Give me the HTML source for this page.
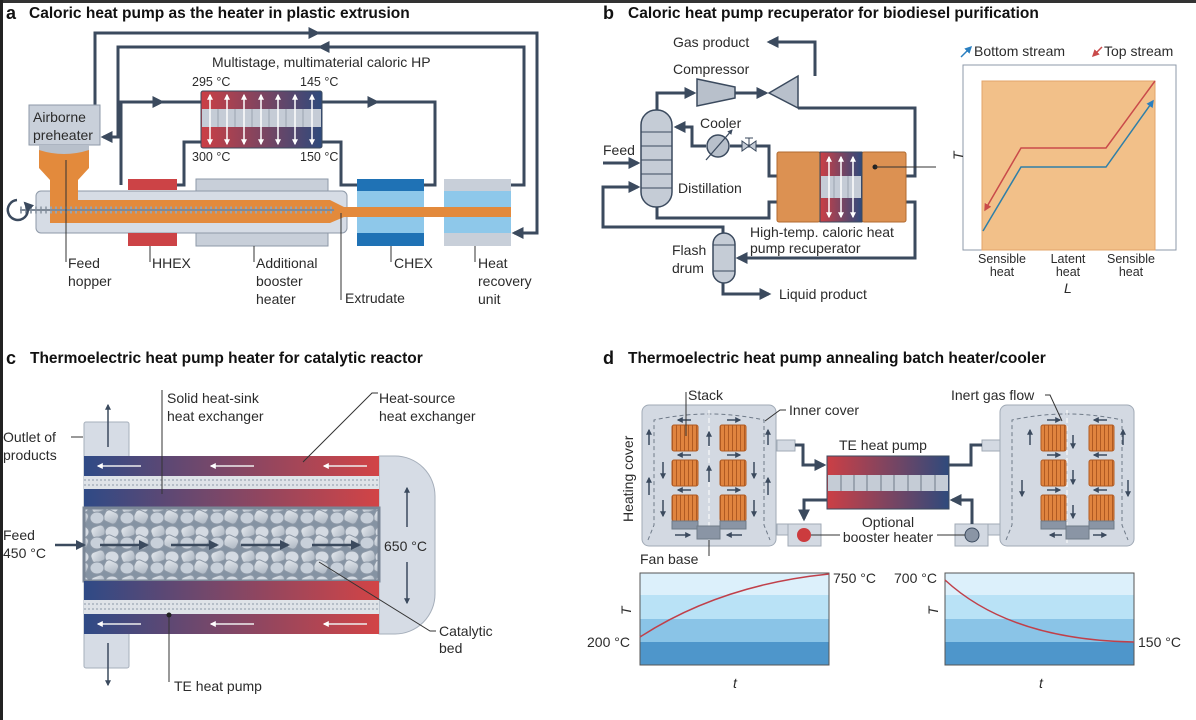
<!DOCTYPE html>
<html><head><meta charset="utf-8"><style>
html,body{margin:0;padding:0;background:#fff}
svg{display:block}
text{font-family:"Liberation Sans",sans-serif;fill:#2b2b2b}
.t{font-size:14px}
.h{font-size:15.5px;font-weight:bold;fill:#111}
.s{font-size:12.5px}
</style></head><body>
<svg width="1196" height="720" viewBox="0 0 1196 720" xmlns="http://www.w3.org/2000/svg">
<defs>
<marker id="ar" viewBox="0 0 10 10" refX="8" refY="5" markerWidth="4" markerHeight="4" orient="auto-start-reverse"><path d="M0,0L10,5L0,10z" fill="#3b4a5e"/></marker>
<marker id="aw" viewBox="0 0 10 10" refX="8" refY="5" markerWidth="4" markerHeight="4" orient="auto-start-reverse"><path d="M0,0L10,5L0,10z" fill="#fff"/></marker>
<marker id="ab" viewBox="0 0 10 10" refX="8" refY="5" markerWidth="5" markerHeight="5" orient="auto"><path d="M0,0L10,5L0,10z" fill="#2a7fc0"/></marker>
<marker id="arr" viewBox="0 0 10 10" refX="8" refY="5" markerWidth="5" markerHeight="5" orient="auto"><path d="M0,0L10,5L0,10z" fill="#c94a4a"/></marker>
<linearGradient id="rb" x1="0" x2="1"><stop offset="0" stop-color="#cc3f45"/><stop offset="1" stop-color="#2f4a7c"/></linearGradient>
<linearGradient id="br" x1="0" x2="1"><stop offset="0" stop-color="#2f4a86"/><stop offset="1" stop-color="#d24446"/></linearGradient>
<linearGradient id="pel" x1="0" x2="1" y1="0" y2="1"><stop offset="0" stop-color="#e6eaef"/><stop offset="1" stop-color="#aab4c0"/></linearGradient>
<pattern id="bed" width="30" height="25" patternUnits="userSpaceOnUse">
<rect width="30" height="25" fill="#8593a3"/>
<rect x="1" y="1" width="14" height="11" rx="4" fill="url(#pel)" stroke="#8d98a6" transform="rotate(-20 8 6)"/>
<ellipse cx="22" cy="7" rx="7" ry="6" fill="#d4dae2" stroke="#8d98a6"/>
<rect x="14" y="11" width="14" height="12" rx="4" fill="url(#pel)" stroke="#8d98a6" transform="rotate(25 21 17)"/>
<ellipse cx="7" cy="18" rx="7" ry="6" fill="#c8d0da" stroke="#8d98a6"/>
</pattern>
<pattern id="stk" width="4" height="10" patternUnits="userSpaceOnUse"><rect width="4" height="10" fill="#e0843f"/><rect width="1" height="10" fill="#b05a22"/></pattern>
</defs>
<rect x="0" y="0" width="1196" height="3" fill="#333"/>
<rect x="0" y="0" width="3" height="720" fill="#222"/>

<!-- ===== Panel a ===== -->
<text x="6" y="19" class="h" style="font-size:18px">a</text>
<text x="29" y="18" class="h">Caloric heat pump as the heater in plastic extrusion</text>
<g fill="none" stroke="#3b4a5e" stroke-width="3">
<path d="M95,112V33H537V233H514" marker-end="url(#ar)"/>
<path d="M95,33H318" marker-end="url(#ar)"/>
<path d="M511,185H524V47H118V137H103" marker-end="url(#ar)"/>
<path d="M524,47H320" marker-end="url(#ar)"/>
<path d="M121,185V102H201"/><path d="M121,102H162" marker-end="url(#ar)"/>
<path d="M177,185H184V142H201"/>
<path d="M322,102H435V185H424"/><path d="M322,102H377" marker-end="url(#ar)"/>
<path d="M322,142H341V185H357"/>
</g>
<rect x="29" y="105" width="71" height="40" fill="#c9d0da" stroke="#8e99a8"/>
<text x="33" y="122" class="t">Airborne</text><text x="33" y="140" class="t">preheater</text>
<rect x="39" y="145" width="50" height="23" fill="#b8c0cb"/>
<path d="M39,150Q64,158 89,150V168L78,180V200H50V180L39,168Z" fill="#e38a3c"/>
<rect x="36" y="191" width="311" height="42" rx="5" fill="#d6dce5" stroke="#8e99a8"/>
<path d="M50,180H78V200H330L344,207H511V217H344L330,223H50Z" fill="#e38a3c"/>
<rect x="50" y="180" width="28" height="24" fill="#e38a3c"/>
<line x1="20" y1="210" x2="334" y2="210" stroke="#9aa4b0" stroke-width="7" stroke-dasharray="2 3"/>
<line x1="20" y1="210" x2="334" y2="210" stroke="#7f8a98" stroke-width="2"/>
<path d="M17,200A10,10 0 1 0 25,203" fill="none" stroke="#3b4a5e" stroke-width="2.5" marker-end="url(#ar)"/>
<rect x="128" y="179" width="49" height="11" fill="#cc4346"/>
<rect x="128" y="233" width="49" height="13" fill="#cc4346"/>
<rect x="196" y="179" width="132" height="12" fill="#c8cfd9" stroke="#8e99a8"/>
<rect x="196" y="233" width="132" height="13" fill="#c8cfd9" stroke="#8e99a8"/>
<rect x="357" y="179" width="67" height="67" fill="#8ec8ea"/>
<rect x="357" y="179" width="67" height="12" fill="#1f72b5"/><rect x="357" y="233" width="67" height="13" fill="#1f72b5"/>
<rect x="357" y="207" width="67" height="10" fill="#e38a3c"/>
<rect x="444" y="179" width="67" height="67" fill="#8ec8ea"/>
<rect x="444" y="179" width="67" height="12" fill="#c8cfd9"/><rect x="444" y="233" width="67" height="13" fill="#c8cfd9"/>
<rect x="444" y="207" width="67" height="10" fill="#e38a3c"/>
<rect x="201" y="91" width="121" height="57" rx="2" fill="url(#rb)" stroke="#3b4a5e"/>
<rect x="202" y="109" width="119" height="18" fill="#c5ccd6"/>
<g stroke="#9aa4b0"><line x1="218" y1="109" x2="218" y2="127"/><line x1="235" y1="109" x2="235" y2="127"/><line x1="252" y1="109" x2="252" y2="127"/><line x1="269" y1="109" x2="269" y2="127"/><line x1="286" y1="109" x2="286" y2="127"/><line x1="303" y1="109" x2="303" y2="127"/></g>
<g stroke="#fff" stroke-width="1.5" marker-start="url(#aw)" marker-end="url(#aw)">
<line x1="210" y1="95" x2="210" y2="144"/><line x1="227" y1="95" x2="227" y2="144"/><line x1="244" y1="95" x2="244" y2="144"/><line x1="261" y1="95" x2="261" y2="144"/><line x1="278" y1="95" x2="278" y2="144"/><line x1="295" y1="95" x2="295" y2="144"/><line x1="312" y1="95" x2="312" y2="144"/></g>
<text x="212" y="67" class="t">Multistage, multimaterial caloric HP</text>
<text x="192" y="86" class="s">295 °C</text><text x="300" y="86" class="s">145 °C</text>
<text x="192" y="161" class="s">300 °C</text><text x="300" y="161" class="s">150 °C</text>
<g stroke="#333" stroke-width="1"><line x1="66" y1="160" x2="66" y2="262"/><line x1="150" y1="246" x2="150" y2="262"/><line x1="254" y1="246" x2="254" y2="262"/><line x1="341" y1="213" x2="341" y2="300"/><line x1="391" y1="246" x2="391" y2="262"/><line x1="475" y1="246" x2="475" y2="262"/></g>
<text x="68" y="268" class="t">Feed</text><text x="68" y="286" class="t">hopper</text>
<text x="152" y="268" class="t">HHEX</text>
<text x="256" y="268" class="t">Additional</text><text x="256" y="286" class="t">booster</text><text x="256" y="304" class="t">heater</text>
<text x="345" y="303" class="t">Extrudate</text>
<text x="394" y="268" class="t">CHEX</text>
<text x="478" y="268" class="t">Heat</text><text x="478" y="286" class="t">recovery</text><text x="478" y="304" class="t">unit</text>

<!-- ===== Panel b ===== -->
<text x="603" y="19" class="h" style="font-size:18px">b</text>
<text x="628" y="18" class="h">Caloric heat pump recuperator for biodiesel purification</text>
<g fill="none" stroke="#3b4a5e" stroke-width="3">
<path d="M657,110V93H694" marker-end="url(#ar)"/>
<path d="M735,93H766" marker-end="url(#ar)"/>
<path d="M815,76V42H769" marker-end="url(#ar)"/>
<path d="M798,108H915V176H906"/>
<path d="M706,146H692V127H676" marker-end="url(#ar)"/>
<path d="M730,146H769V176H777"/>
<path d="M657,207V218H769V202H777"/>
<path d="M906,202H915V258H738" marker-end="url(#ar)"/>
<path d="M723,233V227H603V187H638" marker-end="url(#ar)"/>
<path d="M603,163H638" marker-end="url(#ar)"/>
<path d="M723,283V294H769" marker-end="url(#ar)"/>
</g>
<path d="M697,79L735,87V98L697,106Z" fill="#b8c0cb" stroke="#3b4a5e" stroke-width="1.5"/>
<path d="M769,93L798,76V108Z" fill="#b8c0cb" stroke="#3b4a5e" stroke-width="1.5"/>
<rect x="641" y="110" width="31" height="97" rx="15" fill="#c5ccd6" stroke="#3b4a5e" stroke-width="1.5"/>
<g stroke="#3b4a5e"><line x1="641" y1="132" x2="672" y2="132"/><line x1="641" y1="146" x2="672" y2="146"/><line x1="641" y1="160" x2="672" y2="160"/><line x1="641" y1="174" x2="672" y2="174"/><line x1="641" y1="188" x2="672" y2="188"/></g>
<circle cx="718" cy="146" r="11" fill="#b8c0cb" stroke="#3b4a5e" stroke-width="1.5"/>
<line x1="706" y1="160" x2="732" y2="130" stroke="#3b4a5e" stroke-width="1.3" marker-end="url(#ar)"/>
<path d="M742,141L756,151V141L742,151Z" fill="#c5ccd6" stroke="#3b4a5e"/>
<line x1="749" y1="146" x2="749" y2="138" stroke="#3b4a5e"/><line x1="745" y1="138" x2="753" y2="138" stroke="#3b4a5e"/>
<rect x="777" y="152" width="43" height="70" rx="2" fill="#dc9152" stroke="#b06a30"/>
<rect x="862" y="152" width="44" height="70" rx="2" fill="#dc9152" stroke="#b06a30"/>
<rect x="820" y="152" width="42" height="70" fill="url(#rb)" stroke="#3b4a5e"/>
<rect x="821" y="176" width="40" height="22" fill="#c5ccd6"/>
<g stroke="#9aa4b0"><line x1="834" y1="176" x2="834" y2="198"/><line x1="848" y1="176" x2="848" y2="198"/></g>
<g stroke="#fff" stroke-width="1.5" marker-start="url(#aw)" marker-end="url(#aw)"><line x1="829" y1="157" x2="829" y2="217"/><line x1="841" y1="157" x2="841" y2="217"/><line x1="853" y1="157" x2="853" y2="217"/></g>
<circle cx="875" cy="167" r="2.5" fill="#222"/><line x1="875" y1="167" x2="936" y2="167" stroke="#333"/>
<rect x="713" y="233" width="22" height="50" rx="11" fill="#c5ccd6" stroke="#3b4a5e" stroke-width="1.5"/>
<g stroke="#3b4a5e"><line x1="713" y1="245" x2="735" y2="245"/><line x1="713" y1="271" x2="735" y2="271"/></g>
<text x="673" y="47" class="t">Gas product</text>
<text x="673" y="74" class="t">Compressor</text>
<text x="700" y="128" class="t">Cooler</text>
<text x="603" y="155" class="t">Feed</text>
<text x="678" y="193" class="t">Distillation</text>
<text x="750" y="237" class="t">High-temp. caloric heat</text><text x="750" y="253" class="t">pump recuperator</text>
<text x="672" y="255" class="t">Flash</text><text x="672" y="273" class="t">drum</text>
<text x="779" y="299" class="t">Liquid product</text>
<rect x="963" y="65" width="213" height="185" fill="#fff" stroke="#8e99a8"/>
<rect x="982" y="81" width="173" height="169" fill="#f2c089" stroke="#e3a46a"/>
<path d="M983,231L1021,167H1106L1153,101" fill="none" stroke="#2f7fa8" stroke-width="1.5" marker-end="url(#ab)"/>
<path d="M1155,81L1106,148H1021L985,210" fill="none" stroke="#c94a4a" stroke-width="1.5" marker-end="url(#arr)"/>
<text x="958" y="165" class="t" transform="rotate(-90 958 160)" style="font-style:italic">T</text>
<line x1="961" y1="57" x2="971" y2="47" stroke="#2a7fc0" stroke-width="1.5" marker-end="url(#ab)"/>
<text x="974" y="56" class="t">Bottom stream</text>
<line x1="1102" y1="47" x2="1093" y2="56" stroke="#c94a4a" stroke-width="1.5" marker-end="url(#arr)"/>
<text x="1104" y="56" class="t">Top stream</text>
<g text-anchor="middle"><text x="1002" y="263" class="s">Sensible</text><text x="1002" y="276" class="s">heat</text><text x="1068" y="263" class="s">Latent</text><text x="1068" y="276" class="s">heat</text><text x="1131" y="263" class="s">Sensible</text><text x="1131" y="276" class="s">heat</text></g>
<text x="1064" y="293" class="t" style="font-style:italic">L</text>

<!-- ===== Panel c ===== -->
<text x="6" y="364" class="h" style="font-size:18px">c</text>
<text x="30" y="363" class="h">Thermoelectric heat pump heater for catalytic reactor</text>
<rect x="84" y="422" width="45" height="246" rx="2" fill="#d6dce5" stroke="#a6afbb"/>
<path d="M379,456H395A40,40 0 0 1 435,496V594A40,40 0 0 1 395,634H379Z" fill="#d6dce5" stroke="#a6afbb"/>
<path d="M379,477A11,11 0 0 0 379,508Z M379,581A11,11 0 0 0 379,612Z" fill="#fff"/>
<rect x="84" y="456" width="295" height="20" fill="url(#br)"/>
<rect x="84" y="476" width="295" height="13" fill="#dfe3e8"/>
<line x1="84" y1="480" x2="379" y2="480" stroke="#8e99a8" stroke-dasharray="2 2"/><line x1="84" y1="485" x2="379" y2="485" stroke="#8e99a8" stroke-dasharray="2 2"/>
<rect x="84" y="489" width="295" height="19" fill="url(#br)"/>
<rect x="84" y="508" width="295" height="73" fill="url(#bed)"/>
<rect x="84" y="508" width="295" height="73" fill="none" stroke="#7a8696" stroke-width="3"/>
<rect x="84" y="581" width="295" height="19" fill="url(#br)"/>
<rect x="84" y="600" width="295" height="14" fill="#dfe3e8"/>
<line x1="84" y1="604" x2="379" y2="604" stroke="#8e99a8" stroke-dasharray="2 2"/><line x1="84" y1="609" x2="379" y2="609" stroke="#8e99a8" stroke-dasharray="2 2"/>
<rect x="84" y="614" width="295" height="20" fill="url(#br)"/>
<g stroke="#eee" stroke-width="1.5" marker-end="url(#aw)"><line x1="141" y1="466" x2="98" y2="466"/><line x1="254" y1="466" x2="211" y2="466"/><line x1="367" y1="466" x2="324" y2="466"/><line x1="141" y1="624" x2="98" y2="624"/><line x1="254" y1="624" x2="211" y2="624"/><line x1="367" y1="624" x2="324" y2="624"/></g>
<g stroke="#3b4a5e" stroke-width="2.5" marker-end="url(#ar)"><line x1="100" y1="545" x2="147" y2="545"/><line x1="171" y1="545" x2="217" y2="545"/><line x1="241" y1="545" x2="288" y2="545"/><line x1="312" y1="545" x2="359" y2="545"/><line x1="55" y1="545" x2="84" y2="545"/></g>
<g stroke="#3b4a5e" stroke-width="1.5" marker-end="url(#ar)"><line x1="407" y1="527" x2="407" y2="488"/><line x1="407" y1="562" x2="407" y2="603"/><line x1="108" y1="447" x2="108" y2="405"/><line x1="108" y1="643" x2="108" y2="685"/></g>
<g stroke="#333" stroke-width="1" fill="none"><line x1="71" y1="437" x2="83" y2="437"/><line x1="162" y1="390" x2="162" y2="494"/><path d="M378,393H372L303,462"/><path d="M436,631H430L319,562"/><line x1="169" y1="615" x2="169" y2="682"/></g>
<circle cx="169" cy="615" r="2.5" fill="#222"/>
<text x="3" y="442" class="t">Outlet of</text><text x="3" y="460" class="t">products</text>
<text x="3" y="540" class="t">Feed</text><text x="3" y="558" class="t">450 °C</text>
<text x="167" y="403" class="t">Solid heat-sink</text><text x="167" y="421" class="t">heat exchanger</text>
<text x="379" y="403" class="t">Heat-source</text><text x="379" y="421" class="t">heat exchanger</text>
<text x="384" y="551" class="t">650 °C</text>
<text x="439" y="636" class="t">Catalytic</text><text x="439" y="653" class="t">bed</text>
<text x="174" y="691" class="t">TE heat pump</text>

<!-- ===== Panel d ===== -->
<text x="603" y="364" class="h" style="font-size:18px">d</text>
<text x="628" y="363" class="h">Thermoelectric heat pump annealing batch heater/cooler</text>
<g fill="#d3d9e2" stroke="#a0aab6"><rect x="642" y="405" width="134" height="141" rx="7"/><rect x="1000" y="405" width="134" height="141" rx="7"/>
<rect x="777" y="440" width="18" height="11"/><rect x="982" y="440" width="18" height="11"/>
<rect x="777" y="524" width="11" height="11"/><rect x="788" y="524" width="33" height="22"/>
<rect x="988" y="524" width="12" height="11"/><rect x="955" y="524" width="33" height="22"/></g>
<g fill="none" stroke="#6f7a88" stroke-dasharray="4 3"><path d="M648,540L654,525V420Q709,408 764,420V525L770,540"/><path d="M1006,540L1012,525V420Q1067,408 1122,420V525L1128,540"/></g>
<line x1="709" y1="410" x2="709" y2="546" stroke="#fff" stroke-dasharray="5 3"/><line x1="1067" y1="410" x2="1067" y2="546" stroke="#fff" stroke-dasharray="5 3"/>
<g fill="url(#stk)" stroke="#b05a22"><rect x="672" y="425" width="26" height="26" rx="2"/><rect x="720" y="425" width="26" height="26" rx="2"/><rect x="672" y="460" width="26" height="26" rx="2"/><rect x="720" y="460" width="26" height="26" rx="2"/><rect x="672" y="495" width="26" height="26" rx="2"/><rect x="720" y="495" width="26" height="26" rx="2"/>
<rect x="1041" y="425" width="25" height="26" rx="2"/><rect x="1089" y="425" width="25" height="26" rx="2"/><rect x="1041" y="460" width="25" height="26" rx="2"/><rect x="1089" y="460" width="25" height="26" rx="2"/><rect x="1041" y="495" width="25" height="26" rx="2"/><rect x="1089" y="495" width="25" height="26" rx="2"/></g>
<g fill="#8a95a5" stroke="#6f7a88"><rect x="672" y="521" width="26" height="8"/><rect x="720" y="521" width="26" height="8"/><rect x="697" y="526" width="23" height="13"/><rect x="1041" y="521" width="25" height="8"/><rect x="1089" y="521" width="25" height="8"/><rect x="1066" y="526" width="23" height="13"/></g>
<g stroke="#3b4a5e" stroke-width="1.5" marker-end="url(#ar)">
<line x1="691" y1="420" x2="678" y2="420"/><line x1="727" y1="420" x2="740" y2="420"/><line x1="691" y1="455" x2="678" y2="455"/><line x1="727" y1="455" x2="740" y2="455"/><line x1="691" y1="490" x2="678" y2="490"/><line x1="727" y1="490" x2="740" y2="490"/>
<line x1="649" y1="445" x2="649" y2="430"/><line x1="649" y1="495" x2="649" y2="478"/><line x1="768" y1="445" x2="768" y2="430"/><line x1="768" y1="495" x2="768" y2="478"/>
<line x1="663" y1="462" x2="663" y2="478"/><line x1="663" y1="500" x2="663" y2="516"/><line x1="754" y1="462" x2="754" y2="478"/><line x1="754" y1="500" x2="754" y2="516"/>
<line x1="709" y1="482" x2="709" y2="466"/><line x1="709" y1="446" x2="709" y2="432"/>
<line x1="675" y1="535" x2="690" y2="535"/><line x1="742" y1="535" x2="727" y2="535"/>
<line x1="1047" y1="420" x2="1060" y2="420"/><line x1="1107" y1="420" x2="1094" y2="420"/><line x1="1047" y1="455" x2="1060" y2="455"/><line x1="1107" y1="455" x2="1094" y2="455"/><line x1="1047" y1="490" x2="1060" y2="490"/><line x1="1107" y1="490" x2="1094" y2="490"/>
<line x1="1030" y1="445" x2="1030" y2="430"/><line x1="1022" y1="480" x2="1022" y2="496"/><line x1="1123" y1="445" x2="1123" y2="430"/><line x1="1128" y1="480" x2="1128" y2="496"/>
<line x1="1073" y1="435" x2="1073" y2="448"/><line x1="1073" y1="470" x2="1073" y2="484"/><line x1="1073" y1="505" x2="1073" y2="518"/>
<line x1="1062" y1="535" x2="1050" y2="535"/><line x1="1093" y1="535" x2="1106" y2="535"/></g>
<g fill="none" stroke="#3b4a5e" stroke-width="3"><path d="M795,445H803V465H824" marker-end="url(#ar)"/><path d="M949,465H971V445H982"/><path d="M827,500H804V519" marker-end="url(#ar)"/><path d="M972,524V500H952" marker-end="url(#ar)"/></g>
<rect x="827" y="456" width="122" height="53" fill="url(#rb)" stroke="#3b4a5e"/>
<rect x="828" y="475" width="120" height="16" fill="#c5ccd6"/>
<g stroke="#6f7a88"><line x1="841" y1="475" x2="841" y2="491"/><line x1="854" y1="475" x2="854" y2="491"/><line x1="867" y1="475" x2="867" y2="491"/><line x1="881" y1="475" x2="881" y2="491"/><line x1="894" y1="475" x2="894" y2="491"/><line x1="908" y1="475" x2="908" y2="491"/><line x1="921" y1="475" x2="921" y2="491"/><line x1="935" y1="475" x2="935" y2="491"/></g>
<circle cx="804" cy="535" r="7" fill="#cc3b3e"/><circle cx="972" cy="535" r="7" fill="#8a95a5" stroke="#3b4a5e"/>
<g stroke="#333" fill="none"><line x1="811" y1="535" x2="840" y2="535"/><line x1="937" y1="535" x2="965" y2="535"/><path d="M786,410H780L765,421"/><path d="M1045,395H1050L1062,421"/><line x1="686" y1="392" x2="686" y2="436"/><line x1="709" y1="540" x2="709" y2="556"/></g>
<text x="839" y="450" class="t">TE heat pump</text>
<text x="888" y="527" class="t" text-anchor="middle">Optional</text><text x="888" y="542" class="t" text-anchor="middle">booster heater</text>
<text x="789" y="415" class="t">Inner cover</text>
<text x="688" y="400" class="t">Stack</text>
<text x="951" y="400" class="t">Inert gas flow</text>
<text x="640" y="564" class="t">Fan base</text>
<text x="633" y="522" class="t" transform="rotate(-90 633 522)">Heating cover</text>
<rect x="640" y="573" width="189" height="22" fill="#dcf0fb"/><rect x="640" y="595" width="189" height="24" fill="#b9e2f6"/><rect x="640" y="619" width="189" height="23" fill="#8ac4e7"/><rect x="640" y="642" width="189" height="23" fill="#4e96cb"/>
<rect x="640" y="573" width="189" height="92" fill="none" stroke="#555"/>
<path d="M640,637Q720,585 829,574" fill="none" stroke="#c0404a" stroke-width="1.5"/>
<rect x="945" y="573" width="189" height="22" fill="#dcf0fb"/><rect x="945" y="595" width="189" height="24" fill="#b9e2f6"/><rect x="945" y="619" width="189" height="23" fill="#8ac4e7"/><rect x="945" y="642" width="189" height="23" fill="#4e96cb"/>
<rect x="945" y="573" width="189" height="92" fill="none" stroke="#555"/>
<path d="M945,580Q1010,640 1134,642" fill="none" stroke="#c0404a" stroke-width="1.5"/>
<text x="833" y="583" class="t">750 °C</text><text x="587" y="647" class="t">200 °C</text>
<text x="894" y="583" class="t">700 °C</text><text x="1138" y="647" class="t">150 °C</text>
<text x="632" y="624" class="t" transform="rotate(-90 627 620)" style="font-style:italic">T</text>
<text x="939" y="624" class="t" transform="rotate(-90 934 620)" style="font-style:italic">T</text>
<text x="733" y="688" class="t" style="font-style:italic">t</text><text x="1039" y="688" class="t" style="font-style:italic">t</text>
</svg>
</body></html>
